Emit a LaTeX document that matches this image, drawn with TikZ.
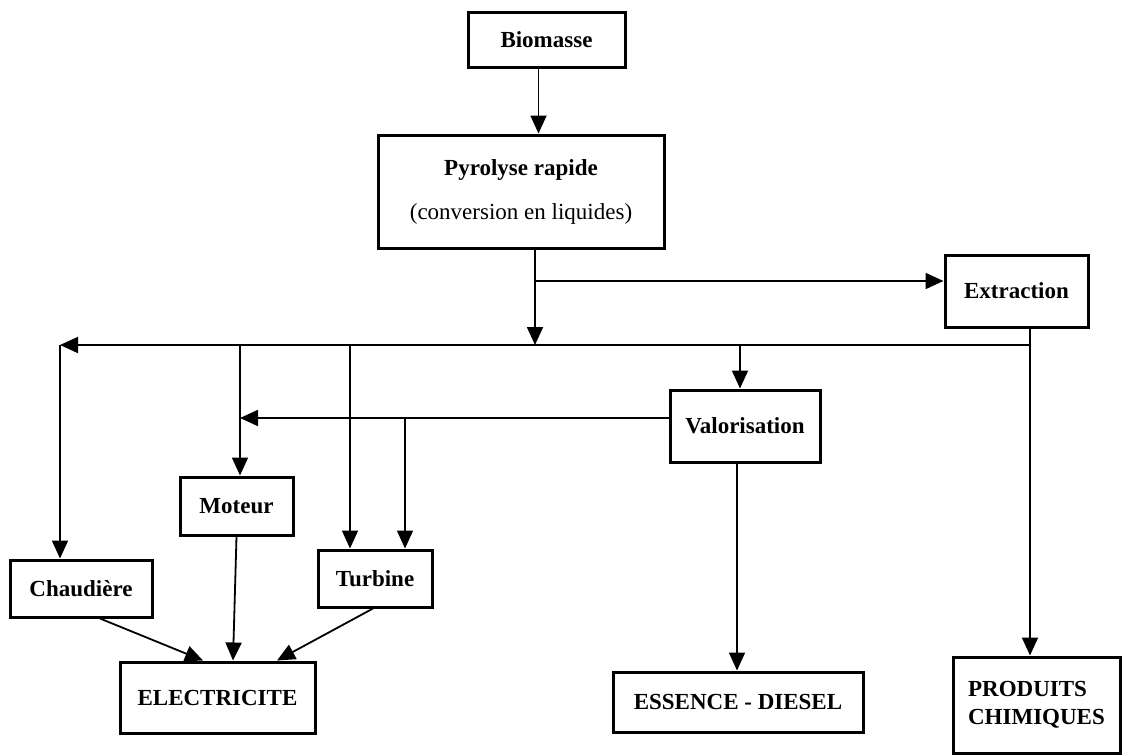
\documentclass[tikz,border=0pt]{standalone}
\usepackage{fontspec}
\setmainfont{Liberation Serif}
\usetikzlibrary{arrows.meta}
\begin{document}
\begin{tikzpicture}[x=0.5pt,y=-0.5pt,
  box/.style={draw, line width=1.5pt, inner sep=0pt, font=\fontsize{11.5}{14}\selectfont\bfseries},
  ln/.style={line width=0.9pt},
  arr/.style={ln, -{Triangle[length=9pt,width=8pt]}}]
\useasboundingbox (0,0) rectangle (1129,755);
% boxes
\node[box, minimum width=78.5pt, minimum height=27.5pt] (bio) at (546.5,39.5) {Biomasse};
\node[box, minimum width=143pt, minimum height=56.5pt, align=center] (pyro) at (521,191.5) {Pyrolyse rapide\\[8pt]{\mdseries (conversion en liquides)}};
\node[box, minimum width=71.5pt, minimum height=36pt] (ext) at (1016.5,291) {Extraction};
\node[box, minimum width=75pt, minimum height=36pt] (val) at (745,426) {Valorisation};
\node[box, minimum width=56.5pt, minimum height=29pt] (mot) at (236.5,506) {Moteur};
\node[box, minimum width=71pt, minimum height=28.5pt] (cha) at (81,588.5) {Chaudière};
\node[box, minimum width=57pt, minimum height=28.5pt] (tur) at (375,578.5) {Turbine};
\node[box, minimum width=97.5pt, minimum height=35.5pt] (ele) at (217.5,697.5) {ELECTRICITE};
\node[box, minimum width=125pt, minimum height=30pt] (ess) at (738,702) {ESSENCE - DIESEL};
\node[box, minimum width=83.5pt, minimum height=48pt, align=left] (pro) at (1036.5,705) {PRODUITS\\CHIMIQUES};
% helper coordinates
\coordinate (pj) at ([xshift=-4pt]bio.south);
\coordinate (pd) at ([xshift=7pt]pyro.south);
\coordinate (busL) at (60,345);
\coordinate (xj) at ([xshift=6.75pt]ext.south);
\coordinate (ea) at ([yshift=5pt]ext.west);
\coordinate (m) at ([xshift=1.75pt]mot.north);
\coordinate (t1) at ([xshift=-12.5pt]tur.north);
\coordinate (t2) at ([xshift=15pt]tur.north);
\coordinate (v) at ([xshift=-2.5pt]val.north);
\coordinate (vl) at ([yshift=4pt]val.west);
\coordinate (vs) at ([xshift=-4pt]val.south);
% connectors
\draw[arr] (pj) -- (pj |- pyro.north);
\draw[arr] (pd) -- (pd |- busL);
\draw[arr] (pd |- ea) -- (ea);
\draw[arr] (xj |- busL) -- (busL);
\draw[arr] (busL) -- (busL |- cha.north);
\draw[arr] (xj) -- (xj |- pro.north);
\draw[arr] (m |- busL) -- (m);
\draw[arr] (t1 |- busL) -- (t1);
\draw[arr] (v |- busL) -- (v);
\draw[arr] (vl) -- (vl -| m);
\draw[arr] (t2 |- vl) -- (t2);
\draw[arr] (vs) -- (vs |- ess.north);
\draw[arr] ([xshift=9.5pt]cha.south) -- ([xshift=-7.25pt]ele.north);
\draw[arr] (mot.south) -- ([xshift=7.75pt]ele.north);
\draw[arr] ([xshift=-1pt]tur.south) -- ([xshift=29.75pt]ele.north);
\end{tikzpicture}
\end{document}
